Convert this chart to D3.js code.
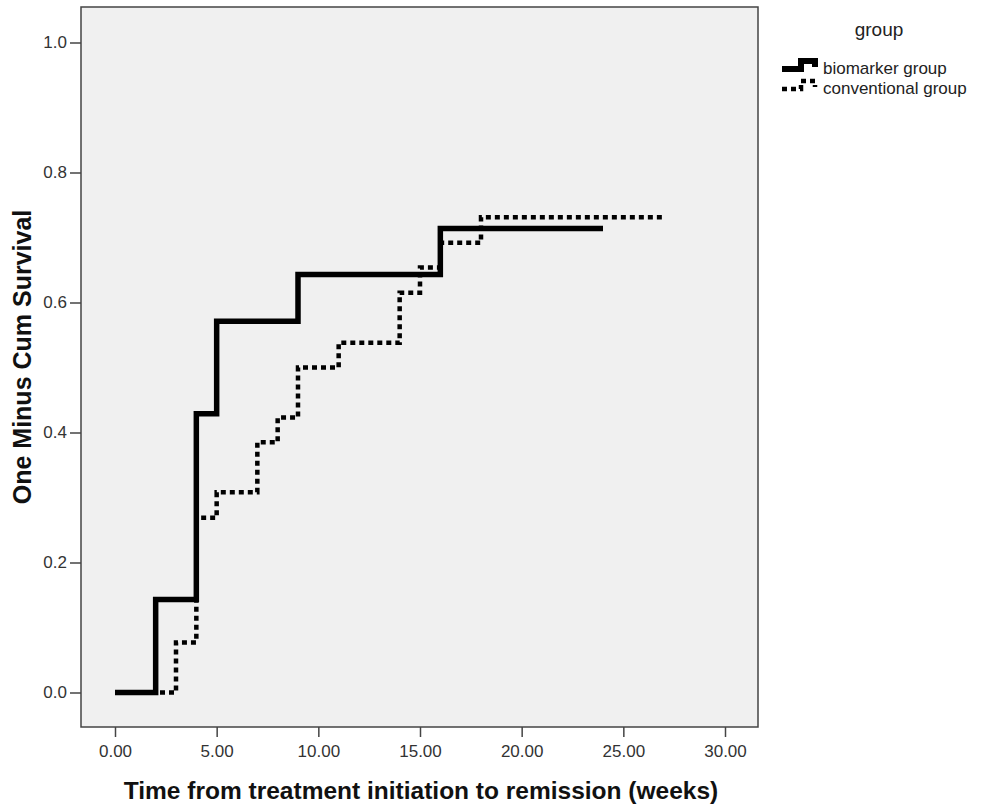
<!DOCTYPE html>
<html>
<head>
<meta charset="utf-8">
<script src="https://cdn.jsdelivr.net/npm/d3@7"></script>
<style>
	body { margin: 0; background: #ffffff; }
	svg { font-family: "Liberation Sans", Arial, sans-serif; }
	.tick text { fill: #333333; }
	.tick line { stroke: #444444; stroke-width: 1.5; }
</style>
</head>
<body>
<div id="chart"></div>
<script>
// Data (1 - cumulative survival, step at each time)
const xTicks = [0, 5, 10, 15, 20, 25, 30];
const yTicks = [0, 0.2, 0.4, 0.6, 0.8, 1.0];
const groupNames = ["biomarker group", "conventional group"];
const bioTimes = [0, 2, 4, 5, 9, 16, 24];
const bioValues = [0, 0.143, 0.429, 0.571, 0.643, 0.714, 0.714];
const convTimes = [0, 3, 4, 5, 7, 8, 9, 11, 14, 15, 16, 18, 27];
const convValues = [0, 0.077, 0.269, 0.308, 0.385, 0.423, 0.5, 0.538, 0.615, 0.654, 0.692, 0.731, 0.731];

function survivalChart(svg_name) {

	// General Variables
	const margin = { top: 7, left: 81 };
	const chart_width = 981;
	const chart_height = 805;
	const innerWidth = 677;
	const innerHeight = 720;
	let chart = d3.select(svg_name).append("svg")
		.attr("width", chart_width)
		.attr("height", chart_height);

	// x position scale
	let x = d3.scaleLinear()
		.domain([0, 30])
		.range([34, 644]);

	// y position scale
	let y = d3.scaleLinear()
		.domain([0, 1])
		.range([685.5, 35.5]);

	const g = chart.append('g')
		.attr("transform", "translate(" + margin.left + "," + margin.top + ")");

	// plot background
	g.append("rect")
		.attr("width", innerWidth)
		.attr("height", innerHeight)
		.attr("fill", "#f0f0f0");

	// Y Axis
	let yAxis = g.append('g')
		.call(d3.axisLeft(y).tickValues(yTicks).tickFormat(d3.format(".1f")).tickSize(11).tickPadding(3));
	yAxis.select(".domain").remove();
	yAxis.selectAll("text").style("font-size", "17px");

	// X Axis
	let xAxis = g.append("g")
		.attr("transform", "translate(0," + innerHeight + ")")
		.call(d3.axisBottom(x).tickValues(xTicks).tickFormat(d3.format(".2f")).tickSize(10).tickPadding(8));
	xAxis.select(".domain").remove();
	xAxis.selectAll("text").style("font-size", "17px");

	// frame
	g.append("rect")
		.attr("width", innerWidth)
		.attr("height", innerHeight)
		.attr("fill", "none")
		.attr("stroke", "#444444")
		.attr("stroke-width", 1.5);

	// step lines
	let line = d3.line()
		.x(d => x(d[0]))
		.y(d => y(d[1]))
		.curve(d3.curveStepAfter);

	let convData = convTimes.map((t, i) => [t, convValues[i]]);
	let bioData = bioTimes.map((t, i) => [t, bioValues[i]]);

	g.append("path")
		.datum(convData)
		.attr("d", line)
		.attr("fill", "none")
		.attr("stroke", "#000")
		.attr("stroke-width", 4.5)
		.attr("stroke-dasharray", "5,4");

	g.append("path")
		.datum(bioData)
		.attr("d", line)
		.attr("fill", "none")
		.attr("stroke", "#000")
		.attr("stroke-width", 5.5);

	// Axis titles
	chart.append('text')
		.attr('x', 421)
		.attr('y', 799)
		.attr('text-anchor', 'middle')
		.style("font-size", "24.5px")
		.style("font-weight", "bold")
		.attr("fill", "#111")
		.text("Time from treatment initiation to remission (weeks)");

	chart.append('text')
		.attr('transform', 'translate(31,357) rotate(-90)')
		.attr('text-anchor', 'middle')
		.style("font-size", "25px")
		.style("font-weight", "bold")
		.attr("fill", "#111")
		.text("One Minus Cum Survival");

	// Legend
	let legend = chart.append("g");
	legend.append("text")
		.attr("x", 879)
		.attr("y", 36)
		.attr("text-anchor", "middle")
		.style("font-size", "19px")
		.attr("fill", "#222")
		.text("group");

	let styles = [{ w: 6, dash: null }, { w: 4.5, dash: "5,4" }];
	groupNames.forEach(function (name, i) {
		let yy = 69 + i * 20;
		legend.append("path")
			.attr("d", "M782," + yy + "H801V" + (yy - 8) + "H815V" + (yy - 2))
			.attr("fill", "none")
			.attr("stroke", "#000")
			.attr("stroke-width", styles[i].w)
			.attr("stroke-dasharray", styles[i].dash);
		legend.append("text")
			.attr("x", 823)
			.attr("y", yy + 4.5)
			.style("font-size", "17px")
			.attr("fill", "#222")
			.text(name);
	});

	return { chart: chart, x_scale: x, y_scale: y };
}

survivalChart("#chart");
</script>
</body>
</html>
